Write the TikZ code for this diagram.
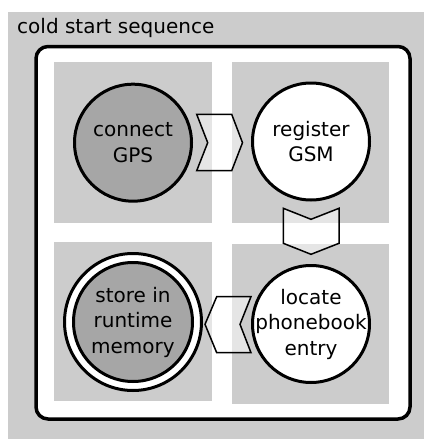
\documentclass[tikz,border=0pt]{standalone}
\usepackage{fontspec}
\setmainfont{DejaVu Sans}
\definecolor{bggray}{HTML}{CCCCCC}
\definecolor{nodegray}{HTML}{A6A6A6}
\begin{document}
\begin{tikzpicture}[x=1pt,y=-1pt,
  cell/.style={fill=bggray,draw=none},
  stepcircle/.style={circle,draw=black,line width=3pt,inner sep=0pt,minimum size=117pt},
  txt/.style={align=center,font=\fontsize{20}{25.5}\selectfont,inner sep=0pt},
  chev/.style={draw=black,line width=1.5pt,fill=white,fill opacity=0.5,line join=miter}]
\useasboundingbox (0,0) rectangle (424,439);
% backgrounds
\fill[bggray] (8,12) rectangle (424,439);
\node[anchor=base west,font=\fontsize{20}{24}\selectfont,inner sep=0pt] (title) at (17,33) {cold start sequence};
\draw[line width=3.5pt,fill=white,rounded corners=12pt] (36,46.5) rectangle (410,419);
\fill[cell] (54,62) rectangle (212,223);
\fill[cell] (232,62) rectangle (389,223);
\fill[cell] (54,242) rectangle (212,401);
\fill[cell] (232,244) rectangle (389,404);
% chevron connectors
\draw[chev] (196.7,114.3) -- (231.7,114.3) -- (242.5,142.7) -- (231.7,170.7) -- (196.7,170.7) -- (207.7,142.7) -- cycle;
\draw[chev] (283.3,208.3) -- (311,219.3) -- (339,208.3) -- (339,243.3) -- (311,254.3) -- (283.3,243.3) -- cycle;
\draw[chev] (216.7,296.7) -- (251,296.7) -- (240,324.3) -- (251,352.7) -- (216.7,352.7) -- (205,324.3) -- cycle;
% states
\node[stepcircle,fill=nodegray] (gps) at (133,142.7) {};
\node[txt] at (gps) {connect\\GPS};
\node[stepcircle,fill=white] (gsm) at (311,141.5) {};
\node[txt] at (gsm) {register\\GSM};
\node[stepcircle,fill=white] (loc) at (311,324) {};
\node[txt] at (loc) {locate\\phonebook\\entry};
\node[stepcircle,fill=white,minimum size=137pt] (storeout) at (133,322) {};
\node[stepcircle,fill=nodegray,minimum size=119pt] (store) at (storeout) {};
\node[txt] at (store) {store in\\runtime\\memory};
\end{tikzpicture}
\end{document}
